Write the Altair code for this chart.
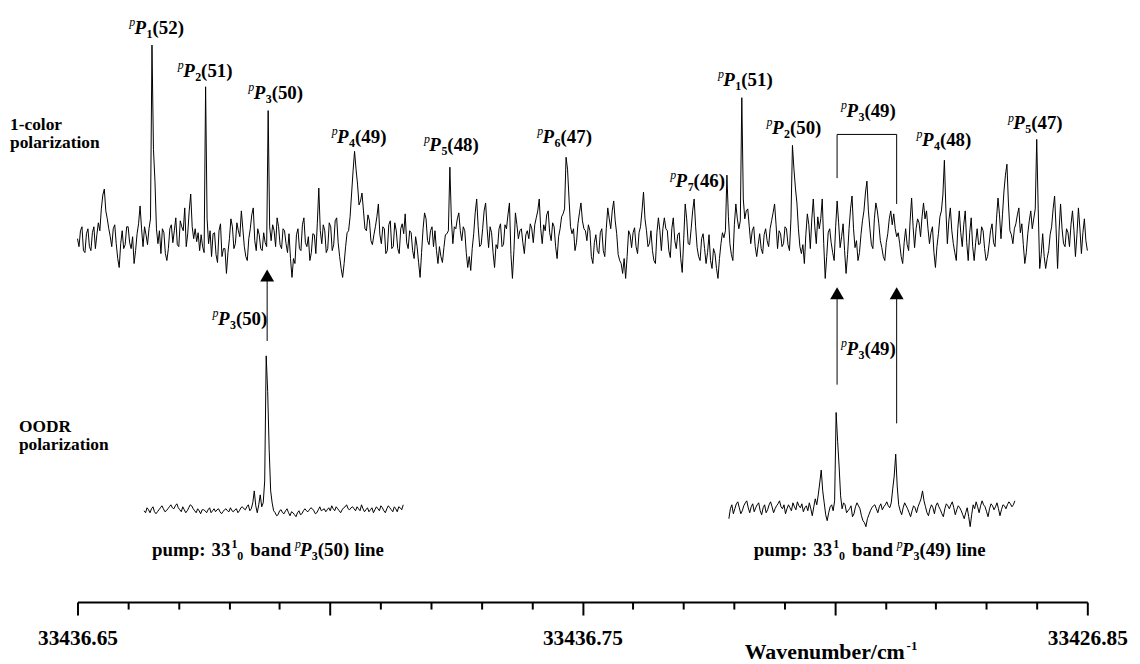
import altair as alt
import pandas as pd

FONT = "Liberation Serif"

# ---------------- axis ----------------
X_MIN, X_MAX = 33436.65, 33436.85
Y_MIN, Y_MAX = 0, 594
TICK_VALUES = [33436.65, 33436.66, 33436.67, 33436.68, 33436.69, 33436.70, 33436.71,
               33436.72, 33436.73, 33436.74, 33436.75, 33436.76, 33436.77, 33436.78,
               33436.79, 33436.80, 33436.81, 33436.82, 33436.83, 33436.84, 33436.85]
MAJOR_TICKS = [33436.65, 33436.70, 33436.75, 33436.80, 33436.85]
LABELED_TICKS = [33436.65, 33436.75, 33436.85]
TICK_LABELS = ["33436.65", "33436.75", "33426.85"]

# ---------------- spectra (sampled on a uniform wavenumber grid) ----------------
# *_V are the samples on the coarse grid, *_MID the samples half a step further on.
SAMPLE_STEP = 0.00059
ONE_COLOR_START = 33436.65
OODR_A_START = 33436.66318
OODR_B_START = 33436.77901

ONE_COLOR_V = [
    0, 8, -12, 5, -8, 6, -10, 16, 30, 50,
    20, 2, 10, -5, -29, 8, -6, 12, -10, -25,
    5, 33, -8, 4, 10, 195, 58, -5, -15, 6,
    -22, 10, -4, 21, -8, 12, 31, 5, 45, 0,
    -3, -12, -8, 153, -5, -18, 6, -24, 15, -10,
    -35, 0, 12, -5, 8, 28, -8, -22, 10, 31,
    -12, 4, -12, -4, 129, -2, 8, 21, -6, 10,
    -5, 5, -39, -25, 10, -12, 21, -8, -22, 5,
    -15, 51, -5, 8, -10, 12, -6, 21, -18, -39,
    -8, 8, 45, 88, 55, 38, 28, 8, 18, -6,
    12, 35, -5, 10, -12, 18, -8, 8, -15, 15,
    25, -10, 6, -20, -8, -39, 10, 20, -6, 12,
    8, -25, -18, -9, 5, 72, -5, 10, 26, -2,
    8, -29, -32, 5, 40, -8, 10, 36, -9, 6,
    -29, -10, 15, -6, 10, 36, -40, 26, 0, 10,
    -15, 8, 15, -4, 21, 40, -5, 8, 28, -2,
    12, -20, 10, 25, 82, 40, 5, -12, 15, 36,
    10, -2, 8, -25, 4, -15, 10, -18, 31, 10,
    38, 5, -22, -35, -40, 8, -9, 11, -15, 12,
    47, 8, -5, -12, -25, 21, -12, 21, 8, -19,
    21, -10, 6, -34, 35, -5, 10, 40, -9, -22,
    5, -25, 4, -30, -15, -40, -5, 1, 64, -5,
    -22, 35, 10, 142, 20, 30, -5, 12, -18, 5,
    -15, 10, -8, 18, 35, -10, 5, -5, 10, -12,
    94, 51, 10, -15, -25, 25, -10, 40, -5, 10,
    40, -40, 6, -4, -22, 38, -9, 15, -35, 10,
    43, -9, -22, 4, 28, 58, 10, -10, 36, 15,
    -9, -22, 5, 28, 25, 2, -5, -25, 10, -12,
    41, -9, 20, 2, 36, 28, -5, 12, -29, 5,
    28, 79, -5, 31, -5, -22, 28, -8, 28, -22,
    21, -22, 10, -5, 8, -22, -6, 15, -8, 41,
    0, 48, 75, 8, -5, 15, 31, 15, -25, 5,
    28, 20, 100, -30, 5, -30, -12, 12, 43, -30,
    35, -5, 10, -8, 28, -18, 31, -15, 20, -12,
]
ONE_COLOR_MID = [
    -8, 12, -14, 10, -12, 12, 4, 8, 44, 28,
    10, -8, 14, -20, -5, -10, 12, -4, 2, -12,
    15, 10, 12, -6, 20, 90, 10, 8, 10, -15,
    -10, 14, 8, -6, 18, 8, -8, 28, 12, 10,
    6, 4, -14, 20, 8, 5, -16, 8, -18, -10,
    -14, 20, -10, 16, 2, 10, -18, 0, 24, -2,
    10, -10, 6, -8, 12, 14, -8, 12, -10, 8,
    -14, -20, -20, 4, -10, 14, -4, 2, -14, 4,
    15, 8, 14, -14, 16, -12, 18, -4, -30, -25,
    6, 22, 68, 70, 34, 46, 10, 24, -2, 4,
    22, 4, 12, -15, 14, -10, 16, -10, 10, 5,
    -4, 8, -12, 2, -24, -14, 26, -2, 8, -8,
    -12, -8, -24, 4, 8, 20, 12, 20, 8, 12,
    -14, -18, -10, 26, 12, -6, 28, 10, 12, -14,
    -6, 10, -8, 14, 24, -16, -12, 14, 8, -4,
    4, 0, 10, 14, 28, 10, 14, 24, 6, 16,
    -8, 2, 22, 30, 70, 12, 10, -4, 26, 18,
    8, 14, -18, -4, -12, 6, -12, 10, 20, 28,
    18, -16, -25, -20, -18, 4, 6, -8, 6, 28,
    20, -8, 8, -22, 6, 8, 10, 10, -12, 10,
    -2, 4, -20, 0, 20, -6, 28, 12, -18, 0,
    -10, -14, -22, -10, -30, -20, 6, 8, 22, -16,
    14, 20, 18, 40, 28, 12, 8, -8, -6, -10,
    4, -2, 10, 26, 14, 8, -8, 12, -6, 20,
    70, 36, -8, -6, 4, 14, 20, 12, 22, 20,
    -5, -18, 10, -14, 12, 16, 2, -12, -16, 30,
    10, -2, -14, 18, 46, 28, -6, 20, 28, -2,
    -18, -4, 20, 14, 10, 6, -18, -4, -6, 18,
    12, 10, 16, 22, 20, 10, 6, -14, -8, 22,
    44, 30, 18, 8, -14, 10, 6, 14, -4, 6,
    -8, -4, -6, 12, -10, -18, 8, -4, 20, 24,
    24, 64, 36, 4, 10, 24, 6, -6, -14, 18,
    10, 30, 30, -16, -18, -20, 4, 30, 10, 8,
    10, -8, 6, 14, 8, 4, 10, 6, -2,
]

OODR_A_V = [
    0, 3, -2, 4, -3, 1, 5, -1, 2, 6,
    2, 7, 1, 4, -2, 3, 5, 0, 2, -3,
    1, -2, 3, 0, -1, 2, -3, 1, 0, 3,
    -1, 2, 0, 4, 1, 6, 2, 20, -2, 16,
    8, 156, 62, 8, -2, -4, 1, -3, 2, -5,
    -2, -6, 0, -3, 2, -1, 3, 0, -2, 4,
    1, -1, 3, 5, 0, 2, -2, 3, 6, 1,
    4, 0, 2, 6, -1, 3, 1, -2, 4, 0,
    3, -2, 5, 1, 4, -1, 3, 6,
]
OODR_A_MID = [
    -2, 1, 2, -1, -1, 3, 2, 0, 4, 3,
    5, 3, -1, 1, 0, 6, 2, -2, 0, 1,
    0, 1, -2, 2, 1, -1, -1, 2, -1, 0,
    1, -2, 3, 2, 4, 0, 8, 5, 6, 4,
    30, 120, 20, 0, -5, 0, -2, 0, -2, -1,
    -4, -2, -4, 0, 0, 1, 2, -3, 1, 0,
    2, 1, 0, 2, 4, 0, 1, 4, 2, 3,
    2, 4, 0, 2, 1, -1, 3, 1, 2, 5,
    0, 2, 3, -1, 2, 4, 1,
]

OODR_B_V = [
    -8, 6, 2, 9, -3, 5, 10, -2, 7, 3,
    8, -4, 6, 1, 9, -2, 5, 10, 2, -3,
    6, 0, 4, 9, 3, -1, 5, 8, -5, 12,
    16, 41, 8, -10, 4, 0, 99, 45, 2, 6,
    0, 5, -3, 8, 2, -10, -16, -4, 3, 6,
    -2, 7, 4, 9, 3, 22, 57, 6, -4, 8,
    2, -6, 5, -2, 8, 20, 4, -5, 6, -3,
    8, 1, -6, 7, 2, 9, -4, 5, 0, -8,
    3, -16, 6, 9, -2, 10, 4, -6, 7, 1,
    8, -5, 6, 2, 9, 4, 10,
]
OODR_B_MID = [
    2, -3, 7, 3, 0, 8, 3, 4, -1, 6,
    0, 3, -2, 6, 4, 2, 7, 4, 6, 2,
    3, 8, 1, 5, 7, 3, 0, 2, 4, 6,
    28, 20, -4, -2, 6, 10, 70, 15, 8, -2,
    2, -6, 4, 5, -5, -12, -8, 0, 5, 2,
    4, 1, 6, 5, 8, 35, 25, 0, 3, 5,
    -2, 0, 3, 4, 12, 10, -2, 2, 3, 5,
    4, -3, 2, 5, 6, 3, 1, 3, -4, -2,
    -6, -4, 2, 4, 5, 6, -1, 2, 5, 4,
    2, 1, 5, 6, 7, 6,
]

ONE_COLOR_BASE = 366
OODR_BASE = 92

# ---------------- annotations ----------------
PEAK_LABEL_X = [33436.66554, 33436.67517, 33436.68914, 33436.70565, 33436.72394,
                33436.74636, 33436.77271, 33436.78215, 33436.79179, 33436.80654,
                33436.82149, 33436.83958, 33436.68206, 33436.80654]
PEAK_LABEL_Y = [572, 529, 507, 462, 454, 462, 418, 520, 471, 489, 459, 476, 279, 249]
PEAK_SUB = ["1", "2", "3", "4", "5", "6", "7", "1", "2", "3", "4", "5", "3", "3"]
PEAK_J = ["(52)", "(51)", "(50)", "(49)", "(48)", "(47)", "(46)", "(51)", "(50)",
          "(49)", "(48)", "(47)", "(50)", "(49)"]

PUMP_X = [33436.66475, 33436.78393]
PUMP_Y = [46, 46]
PUMP_J = ["(50)", "(49)"]

SIDE_TEXT = ["1-color", "polarization", "OODR", "polarization"]
SIDE_X = [33436.63663, 33436.63663, 33436.63840, 33436.63840]
SIDE_Y = [475, 457, 171, 153]

TITLE_X = [33436.78215]
TITLE_Y = [-57]

SEG_X = [33436.68756, 33436.80044, 33436.81224, 33436.80044, 33436.80044, 33436.81224]
SEG_X2 = [33436.68756, 33436.80044, 33436.81224, 33436.81224, 33436.80044, 33436.81224]
SEG_Y = [328, 310, 310, 471, 471, 471]
SEG_Y2 = [263, 219, 180, 471, 427, 401]

HEAD_X = [33436.68756, 33436.80044, 33436.81224]
HEAD_Y = [329, 311, 311]

# ---------------- encodings ----------------
major_test = "indexof([" + ",".join(str(round(v * 100)) for v in MAJOR_TICKS) + "], round(datum.value*100)) >= 0"
label_expr = "".join(
    f"round(datum.value*100) == {round(v * 100)} ? '{t}' : "
    for v, t in zip(LABELED_TICKS, TICK_LABELS)
) + "''"

AXIS = alt.Axis(
    values=TICK_VALUES,
    labelExpr=label_expr,
    tickSize={"condition": {"test": major_test, "value": 13}, "value": 7},
    tickWidth=2,
    tickColor="black",
    domainWidth=2,
    domainColor="black",
    labelFont=FONT,
    labelFontSize=21.5,
    labelFontWeight="bold",
    labelColor="black",
    labelPadding=13,
    labelFlush=False,
    labelOverlap=False,
    labelBound=False,
    grid=False,
    title=None,
)
XS = alt.Scale(domain=[X_MIN, X_MAX], nice=False, zero=False)
YS = alt.Scale(domain=[Y_MIN, Y_MAX], nice=False, zero=False)
X = alt.X("x:Q", scale=XS, axis=AXIS)
Y = alt.Y("y:Q", scale=YS, axis=None)


def trace(start, vals, mids, base):
    xs, ys = [], []
    for i, v in enumerate(vals):
        xs.append(start + i * SAMPLE_STEP)
        ys.append(base + v)
        if i < len(mids):
            xs.append(start + (i + 0.5) * SAMPLE_STEP)
            ys.append(base + mids[i])
    df = pd.DataFrame({"x": xs, "y": ys})
    return alt.Chart(df).mark_line(color="black", strokeWidth=1).encode(x=X, y=Y)


def text_piece(df, dx, dy, size, weight="bold", style="normal", align="left", text=None, field=None):
    kw = dict(align=align, baseline="alphabetic", dx=dx, dy=dy, font=FONT,
              fontSize=size, fontWeight=weight, fontStyle=style, color="black")
    if text is not None:
        kw["text"] = text
    ch = alt.Chart(df).mark_text(**kw)
    enc = dict(x=X, y=Y)
    if field is not None:
        enc["text"] = alt.Text(f"{field}:N")
    return ch.encode(**enc)


peak_df = pd.DataFrame({"x": PEAK_LABEL_X, "y": PEAK_LABEL_Y, "sub": PEAK_SUB, "j": PEAK_J})
peak_layers = [
    text_piece(peak_df, -21, -8, 12, weight="normal", style="italic", align="right", text="p"),
    text_piece(peak_df, -10, 0, 19, style="italic", align="right", text="P"),
    text_piece(peak_df, -9.5, 4, 12, field="sub"),
    text_piece(peak_df, -3.5, 0, 19, field="j"),
]

pump_df = pd.DataFrame({"x": PUMP_X, "y": PUMP_Y, "j": PUMP_J})
pump_layers = [
    text_piece(pump_df, 0, 0, 19, text="pump:"),
    text_piece(pump_df, 60, 0, 19, text="33"),
    text_piece(pump_df, 80, -8, 12, text="1"),
    text_piece(pump_df, 86, 4, 12, text="0"),
    text_piece(pump_df, 99, 0, 19, text="band"),
    text_piece(pump_df, 144, -8, 12, weight="normal", style="italic", text="p"),
    text_piece(pump_df, 149, 0, 19, style="italic", text="P"),
    text_piece(pump_df, 161, 4, 12, text="3"),
    text_piece(pump_df, 167, 0, 19, field="j"),
    text_piece(pump_df, 204, 0, 19, text="line"),
]

side_df = pd.DataFrame({"x": SIDE_X, "y": SIDE_Y, "t": SIDE_TEXT})
side_layer = text_piece(side_df, 0, 0, 17.5, field="t")

title_df = pd.DataFrame({"x": TITLE_X, "y": TITLE_Y})
title_layers = [
    text_piece(title_df, 0, 0, 22, text="Wavenumber/cm"),
    text_piece(title_df, 163, -9, 13, text="-1"),
]

seg_df = pd.DataFrame({"x": SEG_X, "x2": SEG_X2, "y": SEG_Y, "y2": SEG_Y2})
seg_layer = alt.Chart(seg_df).mark_rule(color="black", strokeWidth=1).encode(
    x=X, x2="x2:Q", y=Y, y2="y2:Q")

head_df = pd.DataFrame({"x": HEAD_X, "y": HEAD_Y})
head_layer = alt.Chart(head_df).mark_point(
    shape="triangle-up", filled=True, size=196, color="black", opacity=1).encode(x=X, y=Y)

chart = alt.layer(
    trace(ONE_COLOR_START, ONE_COLOR_V, ONE_COLOR_MID, ONE_COLOR_BASE),
    trace(OODR_A_START, OODR_A_V, OODR_A_MID, OODR_BASE),
    trace(OODR_B_START, OODR_B_V, OODR_B_MID, OODR_BASE),
    seg_layer,
    head_layer,
    *peak_layers,
    *pump_layers,
    side_layer,
    *title_layers,
).properties(
    width=1017,
    height=594,
    padding={"left": 70, "top": 2, "right": 45, "bottom": 60},
    autosize=alt.AutoSizeParams(type="none"),
    background="white",
).configure_view(stroke=None)

chart.save("out.html", embed_options={"renderer": "svg", "actions": False})
